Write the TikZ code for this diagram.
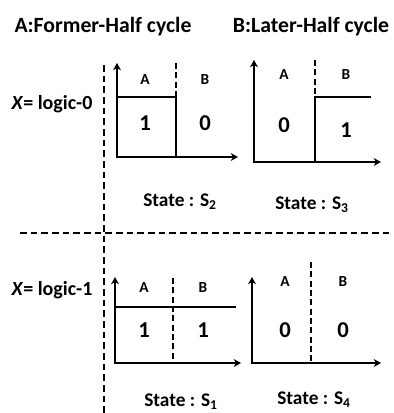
\documentclass[tikz,border=0pt]{standalone}
\usepackage{fontspec}
\setmainfont{Carlito}
\usetikzlibrary{arrows.meta}
\begin{document}
\begin{tikzpicture}[x=0.75pt,y=-0.75pt,
  axis/.style={line width=1.8pt,{Stealth[length=5.5pt,width=6pt]}-{Stealth[length=5.5pt,width=6pt]}},
  signal/.style={line width=1.4pt},
  split/.style={line width=1.4pt,dash pattern=on 4.5pt off 2.5pt},
  divider/.style={line width=1.7pt,dash pattern=on 5pt off 3pt},
  title/.style={font=\bfseries\fontsize{16.3}{18}\selectfont,inner sep=0pt},
  xlabel/.style={font=\bfseries\fontsize{15}{17}\selectfont,inner sep=0pt},
  half/.style={font=\bfseries\fontsize{11.5}{13}\selectfont,inner sep=0pt},
  bit/.style={font=\bfseries\fontsize{17}{19}\selectfont,inner sep=0pt},
  state/.style={font=\bfseries\fontsize{14.5}{16}\selectfont,inner sep=0pt}]
\useasboundingbox (0,0) rectangle (393,413);

% column headings
\node[title] (hA) at (103,27) {A:Former-Half cycle};
\node[title] (hB) at (311,27) {B:Later-Half cycle};

% row labels
\node[xlabel] (x0) at (52,104) {\textit{X}= logic-0};
\node[xlabel] (x1) at (52,290) {\textit{X}= logic-1};

% dividers between the rows and the labels
\coordinate (vtop) at (104,65);
\coordinate (vbot) at (104,413);
\coordinate (hl) at (20,233);
\coordinate (hr) at (393,233);
\draw[divider] (vtop) -- (vbot);
\draw[divider] (hl) -- (hr);

% ---- State S2 : X = 0, A-half ----
\coordinate (t2) at (117,63);
\coordinate (e2) at (238,157);
\coordinate (s2a) at (117,97);
\coordinate (s2b) at (176,97);
\coordinate (s2c) at (176,157);
\coordinate (d2) at (176,63);
\draw[axis] (t2) |- (e2);
\draw[signal] (s2a) -- (s2b) -- (s2c);
\draw[split] (d2) -- (s2b);
\node[half] (a2) at (145,80) {A};
\node[half] (b2) at (205,80) {B};
\node[bit] (v2a) at (145,123) {1};
\node[bit] (v2b) at (205,123) {0};
\node[state] (st2) at (180,202) {State : S\textsubscript{2}};

% ---- State S3 : X = 0, B-half ----
\coordinate (t3) at (254,60);
\coordinate (e3) at (381,162);
\coordinate (s3a) at (315,162);
\coordinate (s3b) at (315,97);
\coordinate (s3c) at (371,97);
\coordinate (d3) at (315,60);
\draw[axis] (t3) |- (e3);
\draw[signal] (s3a) -- (s3b) -- (s3c);
\draw[split] (d3) -- (s3b);
\node[half] (a3) at (284,75) {A};
\node[half] (b3) at (346,75) {B};
\node[bit] (v3a) at (284,125) {0};
\node[bit] (v3b) at (346,130) {1};
\node[state] (st3) at (312,205) {State : S\textsubscript{3}};

% ---- State S1 : X = 1, A-half ----
\coordinate (t1) at (115,277);
\coordinate (e1) at (241,363);
\coordinate (s1a) at (115,307);
\coordinate (s1b) at (236,307);
\coordinate (d1t) at (173,278);
\coordinate (d1b) at (173,363);
\draw[axis] (t1) |- (e1);
\draw[signal] (s1a) -- (s1b);
\draw[split] (d1t) -- (d1b);
\node[half] (a1) at (144,288) {A};
\node[half] (b1) at (203,288) {B};
\node[bit] (v1a) at (144,330) {1};
\node[bit] (v1b) at (203,330) {1};
\node[state] (st1) at (181,402) {State : S\textsubscript{1}};

% ---- State S4 : X = 1, B-half ----
\coordinate (t4) at (252,277);
\coordinate (e4) at (381,363);
\coordinate (d4t) at (311,262);
\coordinate (d4b) at (311,363);
\draw[axis] (t4) |- (e4);
\draw[split] (d4t) -- (d4b);
\node[half] (a4) at (285,282) {A};
\node[half] (b4) at (343,282) {B};
\node[bit] (v4a) at (285,330) {0};
\node[bit] (v4b) at (343,330) {0};
\node[state] (st4) at (314,400) {State : S\textsubscript{4}};
\end{tikzpicture}
\end{document}
